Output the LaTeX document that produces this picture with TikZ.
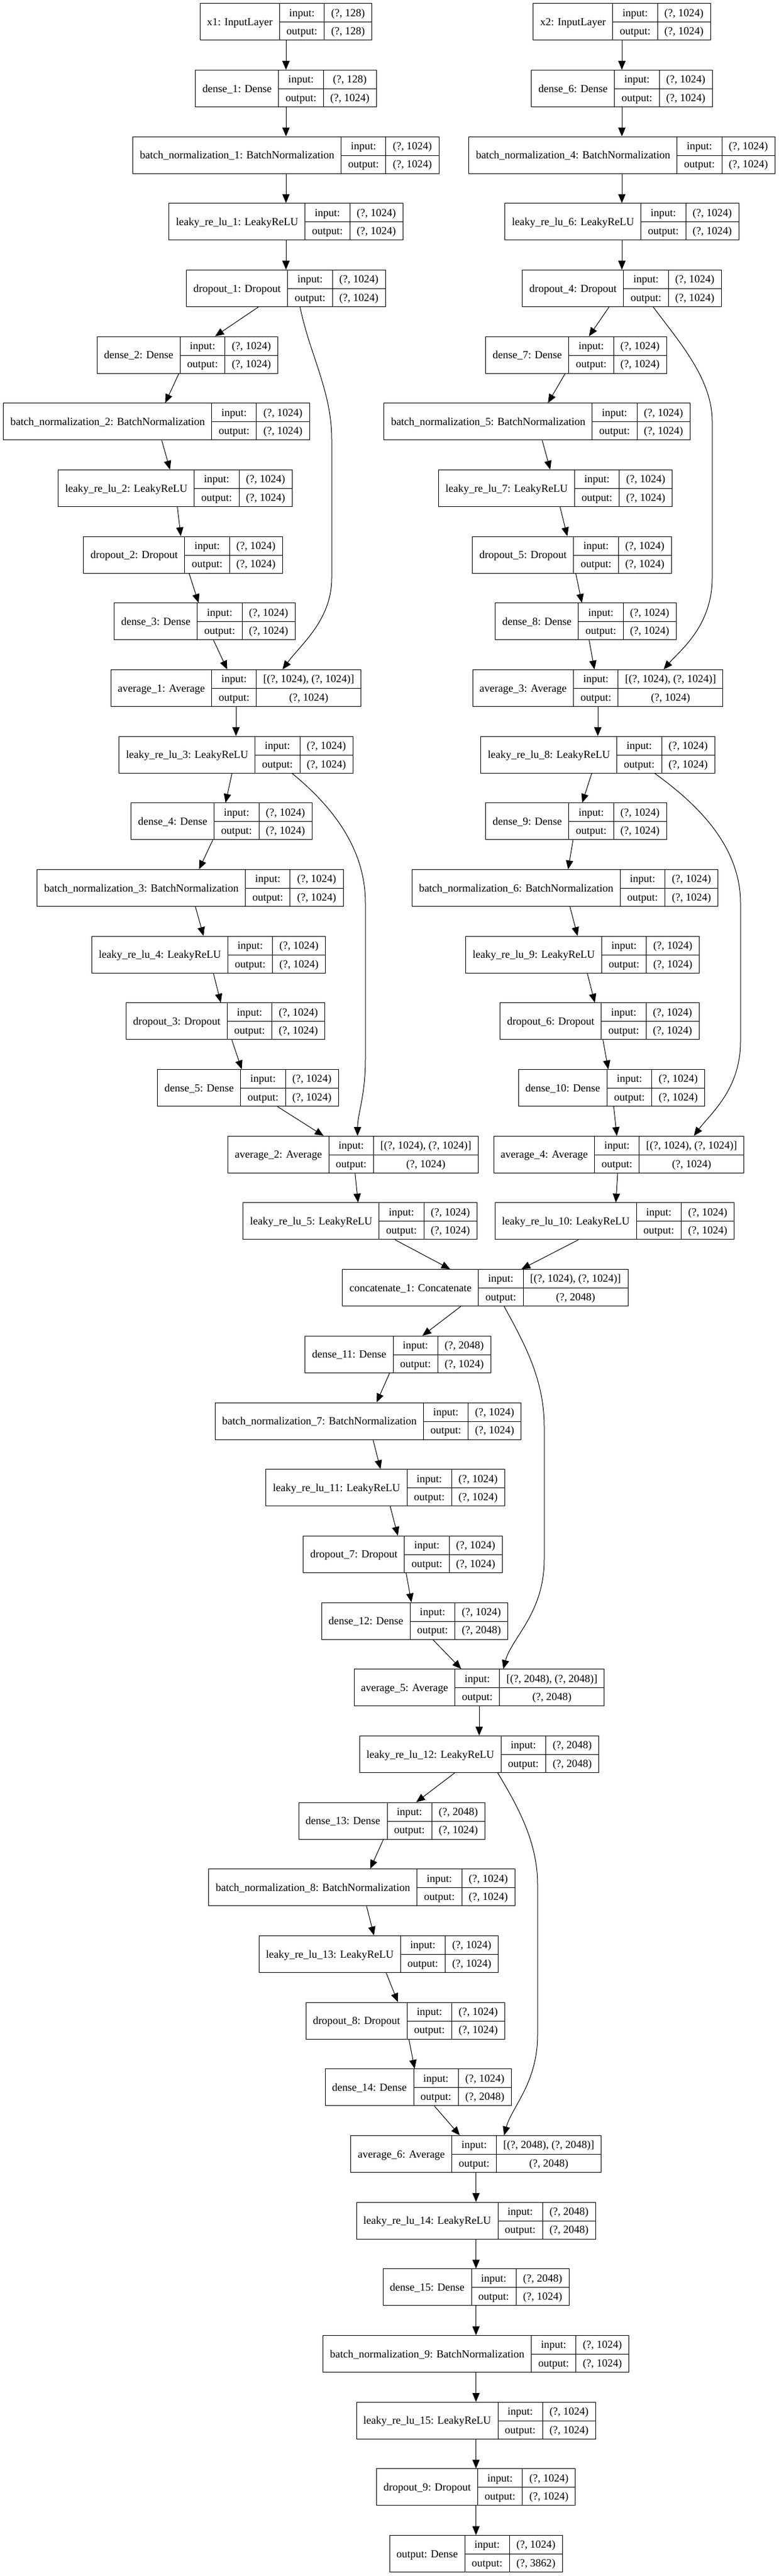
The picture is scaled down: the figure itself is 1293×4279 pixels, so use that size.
\documentclass[tikz,border=0pt]{standalone}
\usepackage{fontspec}
\setmainfont{Liberation Serif}
\usepackage{tikz}
\usetikzlibrary{arrows.meta}
\setlength{\tabcolsep}{8.65pt}
\setlength{\arrayrulewidth}{0.75pt}
\renewcommand{\arraystretch}{1.412}
\newcommand{\layerbox}[3]{\begin{tabular}{c|c|c}\raisebox{-11.44pt}[0pt][0pt]{#1} & input: & #2\\ \cline{2-3} & output: & #3\end{tabular}}
\tikzset{layer/.style={draw, line width=0.75pt, inner sep=0pt, font=\fontsize{13.5}{16.2}\selectfont}}
\begin{document}
\begin{tikzpicture}[x=0.75pt, y=-0.75pt, line width=0.75pt, >={Triangle[length=11pt,width=9pt]}]
     \useasboundingbox (0,0) rectangle (1293,4279);
     \node [layer] (x1) at (475,36.2) {\layerbox{x1: InputLayer}{(?, 128)}{(?, 128)}};
     \node [layer] (dense1) at (475,146.9) {\layerbox{dense\_1: Dense}{(?, 128)}{(?, 1024)}};
     \node [layer] (bn1) at (475,257.6) {\layerbox{batch\_normalization\_1: BatchNormalization}{(?, 1024)}{(?, 1024)}};
     \node [layer] (lrelu1) at (475,368.2) {\layerbox{leaky\_re\_lu\_1: LeakyReLU}{(?, 1024)}{(?, 1024)}};
     \node [layer] (drop1) at (475,478.9) {\layerbox{dropout\_1: Dropout}{(?, 1024)}{(?, 1024)}};
     \node [layer] (dense2) at (311.5,589.6) {\layerbox{dense\_2: Dense}{(?, 1024)}{(?, 1024)}};
     \node [layer] (bn2) at (260,700.3) {\layerbox{batch\_normalization\_2: BatchNormalization}{(?, 1024)}{(?, 1024)}};
     \node [layer] (lrelu2) at (291,811) {\layerbox{leaky\_re\_lu\_2: LeakyReLU}{(?, 1024)}{(?, 1024)}};
     \node [layer] (drop2) at (304,921.6) {\layerbox{dropout\_2: Dropout}{(?, 1024)}{(?, 1024)}};
     \node [layer] (dense3) at (340,1032.3) {\layerbox{dense\_3: Dense}{(?, 1024)}{(?, 1024)}};
     \node [layer] (avg1) at (392,1143) {\layerbox{average\_1: Average}{[(?, 1024), (?, 1024)]}{(?, 1024)}};
     \node [layer] (lrelu3) at (392,1253.7) {\layerbox{leaky\_re\_lu\_3: LeakyReLU}{(?, 1024)}{(?, 1024)}};
     \node [layer] (dense4) at (368,1364.4) {\layerbox{dense\_4: Dense}{(?, 1024)}{(?, 1024)}};
     \node [layer] (bn3) at (316,1475) {\layerbox{batch\_normalization\_3: BatchNormalization}{(?, 1024)}{(?, 1024)}};
     \node [layer] (lrelu4) at (346.6,1585.7) {\layerbox{leaky\_re\_lu\_4: LeakyReLU}{(?, 1024)}{(?, 1024)}};
     \node [layer] (drop3) at (374.6,1696.4) {\layerbox{dropout\_3: Dropout}{(?, 1024)}{(?, 1024)}};
     \node [layer] (dense5) at (412,1807.1) {\layerbox{dense\_5: Dense}{(?, 1024)}{(?, 1024)}};
     \node [layer] (avg2) at (586.5,1917.8) {\layerbox{average\_2: Average}{[(?, 1024), (?, 1024)]}{(?, 1024)}};
     \node [layer] (lrelu5) at (598,2028.4) {\layerbox{leaky\_re\_lu\_5: LeakyReLU}{(?, 1024)}{(?, 1024)}};
     \node [layer] (x2) at (1033,36.2) {\layerbox{x2: InputLayer}{(?, 1024)}{(?, 1024)}};
     \node [layer] (dense6) at (1033,146.9) {\layerbox{dense\_6: Dense}{(?, 1024)}{(?, 1024)}};
     \node [layer] (bn4) at (1033,257.6) {\layerbox{batch\_normalization\_4: BatchNormalization}{(?, 1024)}{(?, 1024)}};
     \node [layer] (lrelu6) at (1033,368.2) {\layerbox{leaky\_re\_lu\_6: LeakyReLU}{(?, 1024)}{(?, 1024)}};
     \node [layer] (drop4) at (1033,478.9) {\layerbox{dropout\_4: Dropout}{(?, 1024)}{(?, 1024)}};
     \node [layer] (dense7) at (957,589.6) {\layerbox{dense\_7: Dense}{(?, 1024)}{(?, 1024)}};
     \node [layer] (bn5) at (892,700.3) {\layerbox{batch\_normalization\_5: BatchNormalization}{(?, 1024)}{(?, 1024)}};
     \node [layer] (lrelu7) at (922.6,811) {\layerbox{leaky\_re\_lu\_7: LeakyReLU}{(?, 1024)}{(?, 1024)}};
     \node [layer] (drop5) at (950,921.6) {\layerbox{dropout\_5: Dropout}{(?, 1024)}{(?, 1024)}};
     \node [layer] (dense8) at (973,1032.3) {\layerbox{dense\_8: Dense}{(?, 1024)}{(?, 1024)}};
     \node [layer] (avg3) at (993,1143) {\layerbox{average\_3: Average}{[(?, 1024), (?, 1024)]}{(?, 1024)}};
     \node [layer] (lrelu8) at (993,1253.7) {\layerbox{leaky\_re\_lu\_8: LeakyReLU}{(?, 1024)}{(?, 1024)}};
     \node [layer] (dense9) at (957,1364.4) {\layerbox{dense\_9: Dense}{(?, 1024)}{(?, 1024)}};
     \node [layer] (bn6) at (938.5,1475) {\layerbox{batch\_normalization\_6: BatchNormalization}{(?, 1024)}{(?, 1024)}};
     \node [layer] (lrelu9) at (967.6,1585.7) {\layerbox{leaky\_re\_lu\_9: LeakyReLU}{(?, 1024)}{(?, 1024)}};
     \node [layer] (drop6) at (996,1696.4) {\layerbox{dropout\_6: Dropout}{(?, 1024)}{(?, 1024)}};
     \node [layer] (dense10) at (1016,1807.1) {\layerbox{dense\_10: Dense}{(?, 1024)}{(?, 1024)}};
     \node [layer] (avg4) at (1028,1917.8) {\layerbox{average\_4: Average}{[(?, 1024), (?, 1024)]}{(?, 1024)}};
     \node [layer] (lrelu10) at (1021,2028.4) {\layerbox{leaky\_re\_lu\_10: LeakyReLU}{(?, 1024)}{(?, 1024)}};
     \node [layer] (cat) at (806,2139.1) {\layerbox{concatenate\_1: Concatenate}{[(?, 1024), (?, 1024)]}{(?, 2048)}};
     \node [layer] (dense11) at (661,2249.8) {\layerbox{dense\_11: Dense}{(?, 2048)}{(?, 1024)}};
     \node [layer] (bn7) at (611.7,2360.5) {\layerbox{batch\_normalization\_7: BatchNormalization}{(?, 1024)}{(?, 1024)}};
     \node [layer] (lrelu11) at (640,2471.2) {\layerbox{leaky\_re\_lu\_11: LeakyReLU}{(?, 1024)}{(?, 1024)}};
     \node [layer] (drop7) at (669,2581.8) {\layerbox{dropout\_7: Dropout}{(?, 1024)}{(?, 1024)}};
     \node [layer] (dense12) at (689,2692.5) {\layerbox{dense\_12: Dense}{(?, 1024)}{(?, 2048)}};
     \node [layer] (avg5) at (796,2803.2) {\layerbox{average\_5: Average}{[(?, 2048), (?, 2048)]}{(?, 2048)}};
     \node [layer] (lrelu12) at (796,2913.9) {\layerbox{leaky\_re\_lu\_12: LeakyReLU}{(?, 2048)}{(?, 2048)}};
     \node [layer] (dense13) at (650.7,3024.6) {\layerbox{dense\_13: Dense}{(?, 2048)}{(?, 1024)}};
     \node [layer] (bn8) at (601,3135.2) {\layerbox{batch\_normalization\_8: BatchNormalization}{(?, 1024)}{(?, 1024)}};
     \node [layer] (lrelu13) at (629,3245.9) {\layerbox{leaky\_re\_lu\_13: LeakyReLU}{(?, 1024)}{(?, 1024)}};
     \node [layer] (drop8) at (673.3,3356.6) {\layerbox{dropout\_8: Dropout}{(?, 1024)}{(?, 1024)}};
     \node [layer] (dense14) at (694.7,3467.3) {\layerbox{dense\_14: Dense}{(?, 1024)}{(?, 2048)}};
     \node [layer] (avg6) at (790.7,3578) {\layerbox{average\_6: Average}{[(?, 2048), (?, 2048)]}{(?, 2048)}};
     \node [layer] (lrelu14) at (790.7,3688.6) {\layerbox{leaky\_re\_lu\_14: LeakyReLU}{(?, 2048)}{(?, 2048)}};
     \node [layer] (dense15) at (790.7,3799.3) {\layerbox{dense\_15: Dense}{(?, 2048)}{(?, 1024)}};
     \node [layer] (bn9) at (790.7,3910) {\layerbox{batch\_normalization\_9: BatchNormalization}{(?, 1024)}{(?, 1024)}};
     \node [layer] (lrelu15) at (790.7,4020.7) {\layerbox{leaky\_re\_lu\_15: LeakyReLU}{(?, 1024)}{(?, 1024)}};
     \node [layer] (drop9) at (790.7,4131.4) {\layerbox{dropout\_9: Dropout}{(?, 1024)}{(?, 1024)}};
     \node [layer] (out) at (790.7,4242) {\layerbox{output: Dense}{(?, 1024)}{(?, 3862)}};
     \foreach \a/\b in {x1/dense1, dense1/bn1, bn1/lrelu1, lrelu1/drop1, drop1/dense2, dense2/bn2, bn2/lrelu2, lrelu2/drop2, drop2/dense3, dense3/avg1, avg1/lrelu3, lrelu3/dense4, dense4/bn3, bn3/lrelu4, lrelu4/drop3, drop3/dense5, dense5/avg2, avg2/lrelu5, lrelu5/cat,
       x2/dense6, dense6/bn4, bn4/lrelu6, lrelu6/drop4, drop4/dense7, dense7/bn5, bn5/lrelu7, lrelu7/drop5, drop5/dense8, dense8/avg3, avg3/lrelu8, lrelu8/dense9, dense9/bn6, bn6/lrelu9, lrelu9/drop6, drop6/dense10, dense10/avg4, avg4/lrelu10, lrelu10/cat,
       cat/dense11, dense11/bn7, bn7/lrelu11, lrelu11/drop7, drop7/dense12, dense12/avg5, avg5/lrelu12, lrelu12/dense13, dense13/bn8, bn8/lrelu13, lrelu13/drop8, drop8/dense14, dense14/avg6, avg6/lrelu14, lrelu14/dense15, dense15/bn9, bn9/lrelu15, lrelu15/drop9, drop9/out}
       \draw [->] (\a) -- (\b);
     \draw [->] ([xshift=17.5]drop1.south) .. controls (515,590) and (551,650) .. (551,730) -- (551,960) .. controls (551,1030) and (500,1070) .. ([xshift=58]avg1.north);
     \draw [->] ([xshift=39]drop4.south) .. controls (1130,570) and (1183,630) .. (1183,700) -- (1183,960) .. controls (1183,1040) and (1130,1080) .. ([xshift=82]avg3.north);
     \draw [->] ([xshift=70]lrelu3.south) .. controls (540,1330) and (607,1400) .. (607,1500) -- (607,1760) .. controls (607,1820) and (594,1850) .. ([xshift=5.5]avg2.north);
     \draw [->] ([xshift=71]lrelu8.south) .. controls (1150,1330) and (1230,1400) .. (1230,1500) -- (1230,1730) .. controls (1230,1810) and (1180,1850) .. ([xshift=93.4]avg4.north);
     \draw [->] ([xshift=23.6]cat.south) .. controls (870,2230) and (904,2290) .. (904,2370) -- (904,2590) .. controls (904,2680) and (850,2720) .. ([xshift=30]avg5.north);
     \draw [->] ([xshift=23]lrelu12.south) .. controls (860,3000) and (893,3060) .. (893,3130) -- (893,3380) .. controls (893,3460) and (850,3500) .. ([xshift=35]avg6.north);
\end{tikzpicture}
\end{document}
